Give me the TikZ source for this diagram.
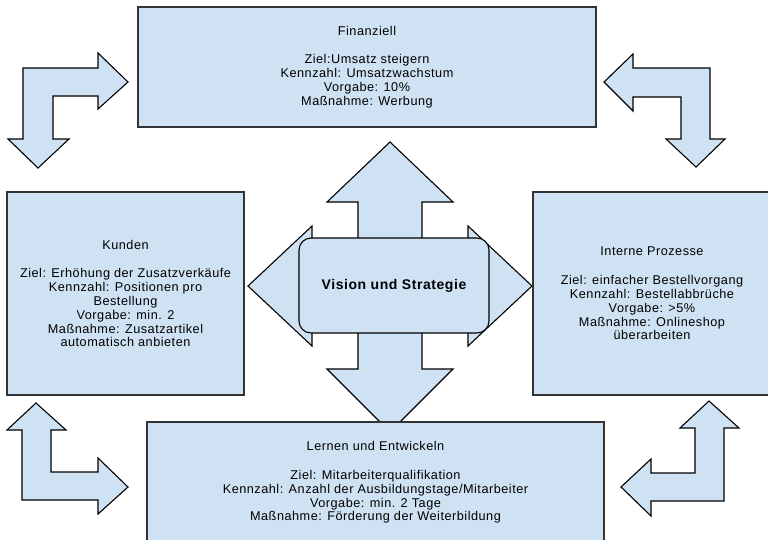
\documentclass[tikz,border=0pt]{standalone}
\usepackage{fontspec}
\setmainfont{Liberation Sans}
\newfontfamily\boxfont[LetterSpace=4]{Liberation Sans}
\definecolor{fillblue}{HTML}{CFE2F3}
\definecolor{edgegray}{HTML}{333333}
\begin{document}
\begin{tikzpicture}[x=1pt,y=-1pt,
  panel/.style={draw=edgegray, line width=1.8pt, fill=fillblue, inner sep=0pt,
    align=center, font=\boxfont\fontsize{12.7}{13.8}\selectfont},
  blockarrow/.style={draw=black, line width=1.1pt, fill=fillblue, line join=miter},
  core/.style={draw=black, line width=1.1pt, fill=fillblue, rounded corners=12pt,
    inner sep=0pt, font=\boxfont\bfseries\fontsize{14}{16}\selectfont}]
\useasboundingbox (0,0) rectangle (768,539);
\clip (0,0) rectangle (768,539);

% four-way arrow behind the centre
\draw[blockarrow] (390,142) -- (453,202) -- (422,202) -- (422,254) -- (468,254)
  -- (468,226) -- (532,286) -- (468,346) -- (468,318) -- (422,318) -- (422,369)
  -- (453,369) -- (390,432) -- (327,369) -- (358,369) -- (358,318) -- (312,318)
  -- (312,346) -- (248,286) -- (312,226) -- (312,254) -- (358,254) -- (358,202)
  -- (327,202) -- cycle;

% corner arrows
\draw[blockarrow] (128,82) -- (98,53) -- (98,68) -- (23,68) -- (23,139) -- (8,139)
  -- (38,168) -- (69,139) -- (53,139) -- (53,96) -- (98,96) -- (98,109) -- cycle;
\draw[blockarrow] (604,82) -- (633,54) -- (633,68) -- (710,68) -- (710,139) -- (725,139)
  -- (696,167) -- (666,139) -- (681,139) -- (681,97) -- (633,97) -- (633,111) -- cycle;
\draw[blockarrow] (36,403) -- (66,430) -- (51,430) -- (51,472) -- (98,472) -- (98,458)
  -- (128,487) -- (98,514) -- (98,500) -- (22,500) -- (22,430) -- (7,430) -- cycle;
\draw[blockarrow] (709,401) -- (739,428) -- (724,428) -- (724,501) -- (651,501) -- (651,516)
  -- (621,487) -- (651,459) -- (651,473) -- (695,473) -- (695,428) -- (680,428) -- cycle;

% panels
\node[panel, minimum width=458pt, minimum height=120pt] (fin) at (367,67)
  {Finanziell\\[15pt]Ziel:Umsatz steigern\\Kennzahl: Umsatzwachstum\\Vorgabe: 10\%\\Maßnahme: Werbung};
\node[panel, minimum width=237pt, minimum height=203pt] (kun) at (125.5,293.5)
  {Kunden\\[15pt]Ziel: Erhöhung der Zusatzverkäufe\\Kennzahl: Positionen pro\\Bestellung\\Vorgabe: min. 2\\Maßnahme: Zusatzartikel\\automatisch anbieten};
\node[panel, minimum width=238pt, minimum height=203pt] (int) at (652,293.5)
  {Interne Prozesse\\[15pt]Ziel: einfacher Bestellvorgang\\Kennzahl: Bestellabbrüche\\Vorgabe: >5\%\\Maßnahme: Onlineshop\\überarbeiten};
\node[panel, minimum width=457pt, minimum height=121pt] (lern) at (375.5,482.5)
  {Lernen und Entwickeln\\[15pt]Ziel: Mitarbeiterqualifikation\\Kennzahl: Anzahl der Ausbildungstage/Mitarbeiter\\Vorgabe: min. 2 Tage\\Maßnahme: Förderung der Weiterbildung};

% centre
\node[core, minimum width=190pt, minimum height=95pt] (vis) at (394,285.5) {Vision und Strategie};
\end{tikzpicture}
\end{document}
